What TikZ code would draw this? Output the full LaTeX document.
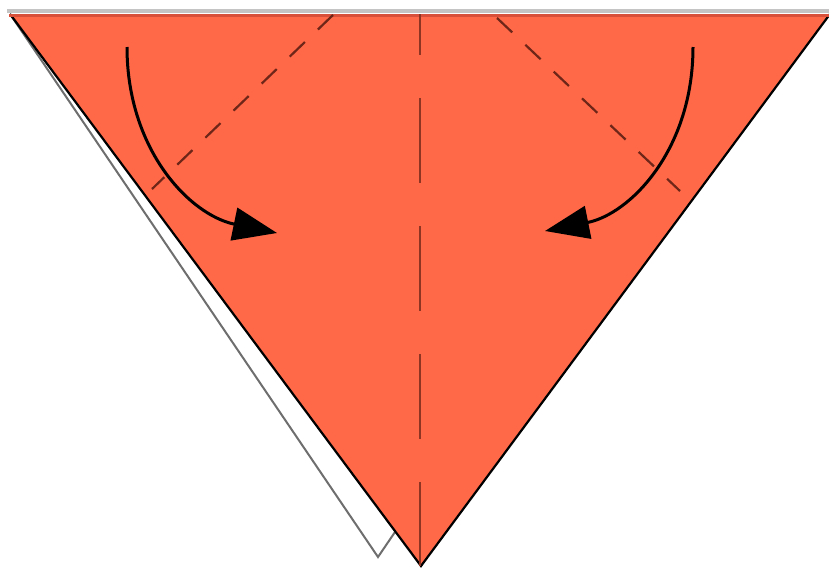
\documentclass[tikz,border=0pt]{standalone}
\usetikzlibrary{arrows.meta}
\definecolor{paper}{RGB}{255,105,72}
\definecolor{topedge}{RGB}{216,80,58}
\definecolor{creasec}{RGB}{142,53,36}
\definecolor{diagc}{RGB}{110,38,24}
\definecolor{backgray}{RGB}{196,196,196}
\definecolor{backline}{RGB}{110,110,110}
\tikzset{
  backlayer/.style={fill=white, draw=backline, line width=2pt, line join=miter},
  centercrease/.style={draw=creasec, line width=2.6pt, dash pattern=on 85pt off 43pt, dash phase=44pt},
  diagcrease/.style={draw=diagc, line width=2.2pt, dash pattern=on 21pt off 18pt},
  foldarrow/.style={draw=black, line width=3pt, -{Triangle[length=44pt,width=33pt]}}
}
\begin{document}
\begin{tikzpicture}[x=1pt,y=-1pt]
\useasboundingbox (0,0) rectangle (829,568);
% back layer
\draw[backlayer] (10,14) -- (378,557) -- (395,532);
\draw[backgray, line width=4.5pt] (7,11) -- (829,11);
% front layer
\coordinate (tl) at (10,14);
\coordinate (tr) at (830,14);
\coordinate (bt) at (421,566);
\fill[paper] (tl) -- (tr) -- (bt) -- cycle;
\draw[black, line width=2.2pt] (tl) -- (bt) -- (tr);
\draw[topedge, line width=3.4pt] (9,15.7) -- (829,15.7);
% creases
\coordinate (ctop) at (420,14);
\coordinate (cbot) at (420,566);
\draw[centercrease] (ctop) -- (cbot);
\coordinate (la) at (333,15);
\coordinate (lb) at (152,189);
\coordinate (ra) at (497,18);
\coordinate (rb) at (680,191);
\draw[diagcrease] (la) -- (lb);
\draw[diagcrease] (ra) -- (rb);
% arrows
\coordinate (l0) at (127,47);
\coordinate (l1) at (277,233);
\coordinate (r0) at (693,47);
\coordinate (r1) at (545,231);
\draw[foldarrow] (l0) .. controls (127,150) and (190,215) .. (l1);
\draw[foldarrow] (r0) .. controls (693,150) and (630,214) .. (r1);
\end{tikzpicture}
\end{document}
